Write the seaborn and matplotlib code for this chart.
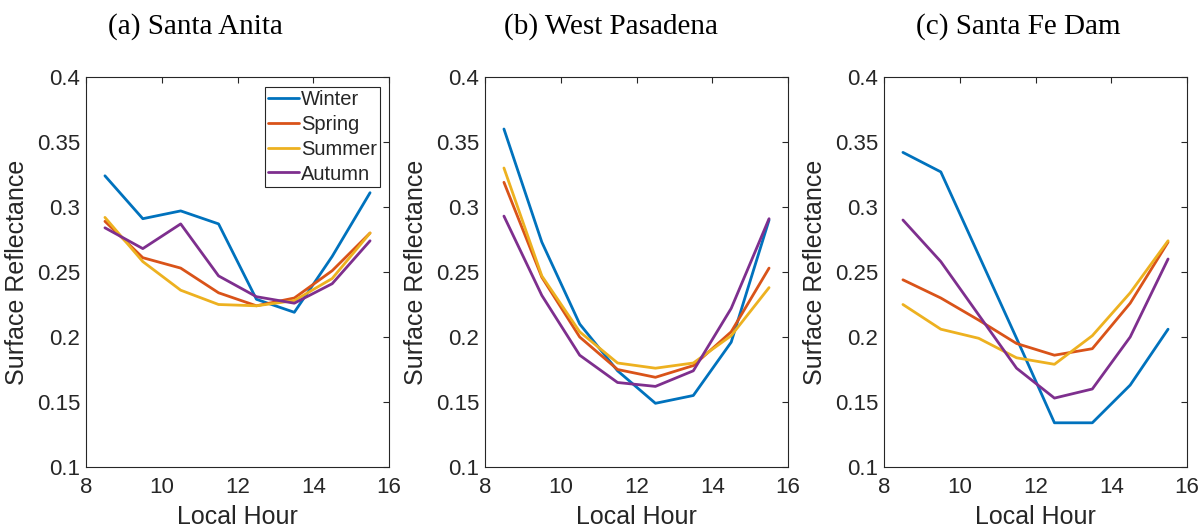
import numpy as np
import pandas as pd
import matplotlib
matplotlib.use("Agg")
import matplotlib.pyplot as plt
import seaborn as sns

# ---- data ----
hours = [8.5, 9.5, 10.5, 11.5, 12.5, 13.5, 14.5, 15.5]
seasons = ["Winter", "Spring", "Summer", "Autumn"]
titles = ["(a) Santa Anita", "(b) West Pasadena", "(c) Santa Fe Dam"]

sa_winter = [0.324, 0.291, 0.297, 0.287, 0.229, 0.219, 0.262, 0.311]
sa_spring = [0.289, 0.261, 0.253, 0.234, 0.224, 0.230, 0.251, 0.280]
sa_summer = [0.292, 0.258, 0.236, 0.225, 0.224, 0.228, 0.245, 0.280]
sa_autumn = [0.284, 0.268, 0.287, 0.247, 0.231, 0.226, 0.241, 0.274]

wp_winter = [0.360, 0.273, 0.210, 0.174, 0.149, 0.155, 0.196, 0.290]
wp_spring = [0.319, 0.246, 0.200, 0.175, 0.169, 0.178, 0.204, 0.253]
wp_summer = [0.330, 0.247, 0.204, 0.180, 0.176, 0.180, 0.201, 0.238]
wp_autumn = [0.293, 0.232, 0.186, 0.165, 0.162, 0.174, 0.222, 0.291]

sf_winter = [0.342, 0.327, 0.263, 0.199, 0.134, 0.134, 0.163, 0.206]
sf_spring = [0.244, 0.230, 0.213, 0.195, 0.186, 0.191, 0.226, 0.273]
sf_summer = [0.225, 0.206, 0.199, 0.184, 0.179, 0.201, 0.234, 0.274]
sf_autumn = [0.290, 0.258, 0.217, 0.176, 0.153, 0.160, 0.200, 0.260]

xticks = [8, 10, 12, 14, 16]
yticks = [0.1, 0.15, 0.2, 0.25, 0.3, 0.35, 0.4]
ytick_labels = ["0.1", "0.15", "0.2", "0.25", "0.3", "0.35", "0.4"]

panels = [
    [sa_winter, sa_spring, sa_summer, sa_autumn],
    [wp_winter, wp_spring, wp_summer, wp_autumn],
    [sf_winter, sf_spring, sf_summer, sf_autumn],
]

palette = {"Winter": "#0072BD", "Spring": "#D95319",
           "Summer": "#EDB120", "Autumn": "#7E2F8E"}

# ---- style ----
sns.set_theme(style="white")
plt.rcParams["font.family"] = ["Liberation Sans", "DejaVu Sans"]
dark = "#262626"

fig = plt.figure(figsize=(12.01, 5.29), dpi=100)
W, H = 1201, 529
lefts = [86, 485, 884]
aw, top, bottom = 303, 77, 467
title_x = [195, 611, 1018]

for i, series in enumerate(panels):
    ax = fig.add_axes([lefts[i] / W, 1 - bottom / H, aw / W, (bottom - top) / H])
    rows = []
    for s, vals in zip(seasons, series):
        for h, v in zip(hours, vals):
            rows.append({"Local Hour": h, "Reflectance": v, "Season": s})
    df = pd.DataFrame(rows)
    sns.lineplot(data=df, x="Local Hour", y="Reflectance", hue="Season",
                 hue_order=seasons, palette=palette, linewidth=2.0,
                 legend=(i == 0), ax=ax)
    ax.set_xlim(8, 16)
    ax.set_ylim(0.1, 0.4)
    ax.set_xticks(xticks)
    ax.set_xticklabels([str(t) for t in xticks])
    ax.set_yticks(yticks)
    ax.set_yticklabels(ytick_labels)
    ax.tick_params(direction="in", top=True, right=True, length=4, width=0.8,
                   colors=dark, labelsize=16, labelcolor=dark)
    ax.tick_params(axis="x", pad=7)
    ax.tick_params(axis="y", pad=4)
    for sp in ax.spines.values():
        sp.set_color(dark)
        sp.set_linewidth(0.8)
    ax.set_xlabel("Local Hour", fontsize=18, color=dark, labelpad=5)
    ax.set_ylabel("Surface Reflectance", fontsize=18, color=dark, labelpad=6)
    if i == 0:
        handles, labels = ax.get_legend_handles_labels()
        leg = ax.legend(handles, labels, loc="upper right",
                        bbox_to_anchor=(1 - 9 / aw, 1 - 10 / (bottom - top)),
                        borderaxespad=0, fontsize=14.5, handlelength=1.5,
                        handletextpad=0.12, labelspacing=0.29, borderpad=0.15,
                        fancybox=False, framealpha=1, edgecolor=dark)
        leg.get_frame().set_linewidth(0.8)
    fig.text(title_x[i] / W, 1 - 27 / H, titles[i], ha="center", va="center",
             fontsize=21, family=["Liberation Serif", "DejaVu Serif"], color="black")

fig.savefig("out.png", dpi=100)
